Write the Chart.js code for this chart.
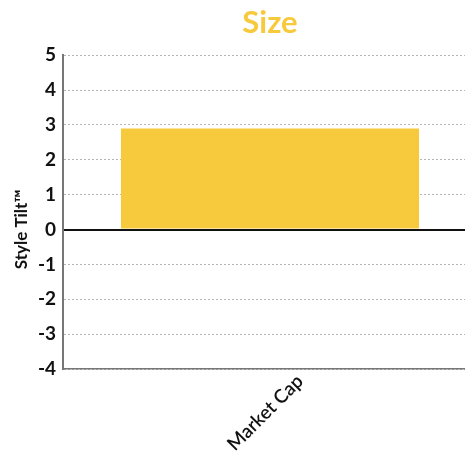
<!DOCTYPE html>
<html>
<head>
<meta charset="utf-8">
<script src="https://cdn.jsdelivr.net/npm/chart.js@4.4.1/dist/chart.umd.min.js"></script>
<style>
  html, body { margin: 0; padding: 0; background: #fff; overflow: hidden; }
  #wrap { width: 477px; height: 459px; position: relative; }
</style>
</head>
<body>
<div id="wrap"><canvas id="c"></canvas></div>
<script>
const categories = ['Market Cap'];
const tiltValues = [2.9];
const yTickLabels = [5, 4, 3, 2, 1, 0, -1, -2, -3, -4];
const yAxisTitle = 'Style Tilt\u2122';

const FONT = 'Lato, "Open Sans", sans-serif';
const BAR_COLOR = '#F7C93C';

// Vertical axis title, centred on the full canvas height
const sideTitle = {
  id: 'sideTitle',
  afterDraw(chart) {
    const ctx = chart.ctx;
    ctx.save();
    ctx.translate(22, chart.height / 2);
    ctx.rotate(-Math.PI / 2);
    ctx.font = 'bold 17px ' + FONT;
    ctx.fillStyle = '#111';
    ctx.textAlign = 'center';
    ctx.textBaseline = 'middle';
    ctx.fillText(yAxisTitle, 0, 0);
    ctx.restore();
  }
};

new Chart(document.getElementById('c'), {
  type: 'bar',
  data: {
    labels: categories,
    datasets: [{
      data: tiltValues,
      backgroundColor: BAR_COLOR,
      borderWidth: 0,
      barPercentage: 0.9,
      categoryPercentage: 0.8
    }]
  },
  plugins: [sideTitle],
  options: {
    responsive: true,
    maintainAspectRatio: false,
    animation: false,
    layout: { padding: { left: 12, top: 4, right: 0, bottom: 0 } },
    plugins: {
      legend: { display: false },
      tooltip: { enabled: false },
      title: {
        display: true,
        text: 'Size',
        fullSize: false,
        color: BAR_COLOR,
        font: { family: FONT, size: 31, weight: 'bold' },
        padding: { top: 0, bottom: 14 }
      }
    },
    scales: {
      x: {
        afterFit: (axis) => { axis.height = 90; },
        grid: { display: false },
        border: { display: true, color: '#777', width: 1.5 },
        ticks: {
          color: '#111',
          font: { family: FONT, size: 19, weight: '600' },
          maxRotation: 45,
          minRotation: 45,
          labelOffset: 30,
          padding: -7
        }
      },
      y: {
        min: Math.min(...yTickLabels),
        max: Math.max(...yTickLabels),
        afterBuildTicks: (axis) => { axis.ticks = yTickLabels.map(v => ({ value: v })); },
        afterFit: (axis) => { axis.width = 51; },
        border: {
          display: true,
          color: '#777',
          width: 2,
          dash: (ctx) => (ctx.tick && ctx.tick.value === 0 ? [] : [2, 2])
        },
        grid: {
          drawTicks: false,
          color: (ctx) => (ctx.tick && ctx.tick.value === 0 ? '#111' : '#b5b5b5'),
          lineWidth: (ctx) => (ctx.tick && ctx.tick.value === 0 ? 2 : 1)
        },
        ticks: {
          color: '#111',
          font: { family: FONT, size: 19, weight: 'bold' },
          padding: 7
        }
      }
    }
  }
});
</script>
</body>
</html>
